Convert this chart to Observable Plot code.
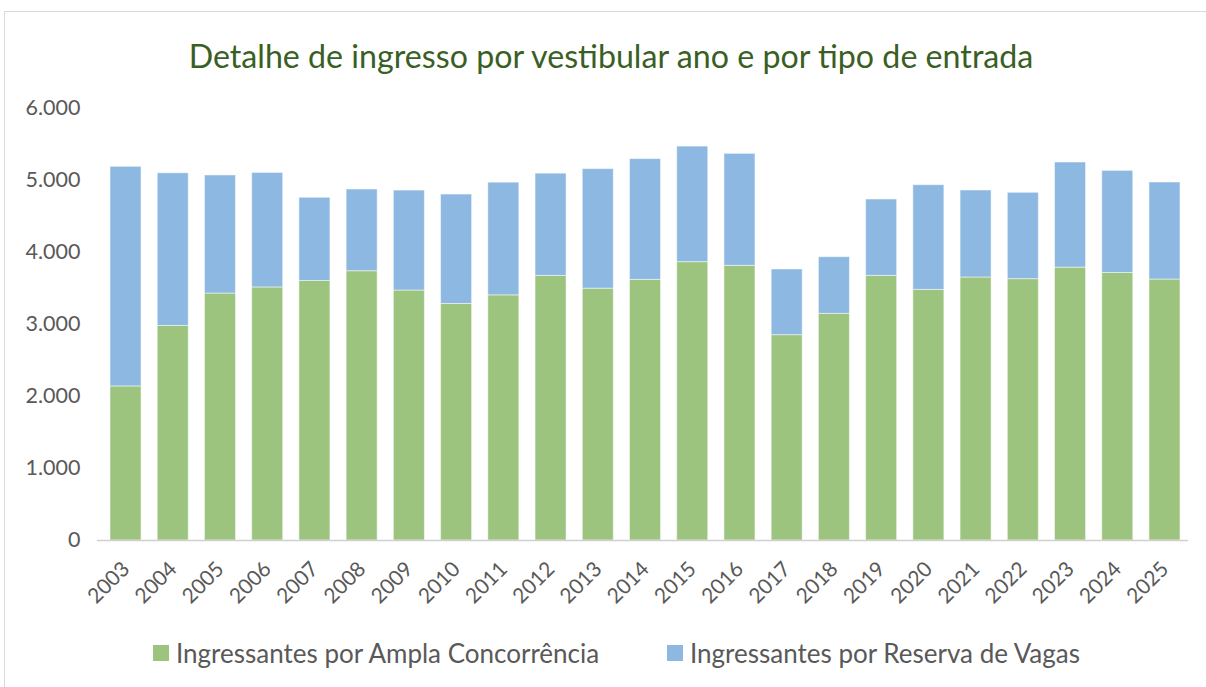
<!DOCTYPE html>
<html>
<head>
<meta charset="utf-8">
<script src="https://cdn.jsdelivr.net/npm/d3@7"></script>
<script src="https://cdn.jsdelivr.net/npm/@observablehq/plot@0.6"></script>
<style>
  html, body { margin: 0; padding: 0; background: #fff; }
  #wrap { position: relative; width: 1206px; height: 687px; overflow: hidden; font-family: Lato, "Open Sans", sans-serif; }
  #frame { position: absolute; left: 4px; top: 11px; width: 1220px; height: 700px; border: 1.5px solid #d9d9d9; box-sizing: border-box; }
  #title { position: absolute; left: 8px; width: 1206px; top: 36px; text-align: center; color: #3a5f24; font-size: 32.2px; line-height: 40px; }
  #chart { position: absolute; left: 0; top: 90px; }
  #legend { position: absolute; top: 638px; left: 0; width: 1206px; height: 30px; font-size: 26px; color: #595959; }
  .item { position: absolute; top: 0; display: flex; align-items: center; height: 30px; }
  .sw { width: 16px; height: 16px; margin-right: 7px; }
</style>
</head>
<body>
<div id="wrap">
  <div id="frame"></div>
  <div id="title">Detalhe de ingresso por vestibular ano e por tipo de entrada</div>
  <div id="chart"></div>
  <div id="legend"></div>
</div>
<script>
const years = ["2003","2004","2005","2006","2007","2008","2009","2010","2011","2012","2013","2014","2015","2016","2017","2018","2019","2020","2021","2022","2023","2024","2025"];
const ampla = [2140,2980,3430,3515,3605,3740,3472,3285,3405,3675,3498,3620,3866,3815,2852,3148,3676,3481,3653,3630,3790,3716,3625];
const reserva = [3050,2120,1640,1590,1155,1135,1388,1520,1565,1420,1660,1677,1605,1555,912,787,1060,1454,1208,1199,1460,1418,1347];
const seriesNames = ["Ingressantes por Ampla Concorrência","Ingressantes por Reserva de Vagas"];
const seriesColors = ["#9cc47e","#8db8e1"];
const yTicks = [0,1000,2000,3000,4000,5000,6000];

const rows = [];
years.forEach((y, i) => {
  rows.push({year: y, tipo: seriesNames[0], value: ampla[i]});
  rows.push({year: y, tipo: seriesNames[1], value: reserva[i]});
});

const fmt = d => d === 0 ? "0" : d3.format(",")(d).replace(/,/g, ".");

const plot = Plot.plot({
  width: 1206,
  height: 530,
  marginLeft: 97,
  marginRight: 18,
  marginTop: 18,
  marginBottom: 80,
  style: {fontFamily: "Lato, 'Open Sans', sans-serif", color: "#595959", background: "transparent"},
  x: {domain: years, range: [101.9, 1188.1], paddingInner: 0.343, paddingOuter: 0.1715, round: false, label: null},
  y: {domain: [0, 6000], label: null},
  color: {domain: seriesNames, range: seriesColors},
  marks: [
    Plot.barY(rows, Plot.stackY({x: "year", y: "value", fill: "tipo", order: seriesNames, stroke: "#ffffff", strokeOpacity: 0.5, strokeWidth: 1})),
    Plot.ruleY([0], {stroke: "#d0d0d0", strokeWidth: 1.5}),
    Plot.axisY({ticks: yTicks, tickFormat: fmt, tickSize: 0, tickPadding: 17, fontSize: 21.5, label: null}),
    Plot.axisX({tickSize: 0, tickRotate: -45, tickPadding: 17, dx: 0, dy: 8, fontSize: 21, label: null})
  ]
});
document.getElementById("chart").appendChild(plot);

const legend = document.getElementById("legend");
const lefts = [153, 667];
seriesNames.forEach((n, i) => {
  const it = document.createElement("div");
  it.className = "item";
  it.style.left = lefts[i] + "px";
  const sw = document.createElement("div");
  sw.className = "sw";
  sw.style.background = seriesColors[i];
  const t = document.createElement("span");
  t.textContent = n;
  it.appendChild(sw);
  it.appendChild(t);
  legend.appendChild(it);
});
</script>
</body>
</html>
